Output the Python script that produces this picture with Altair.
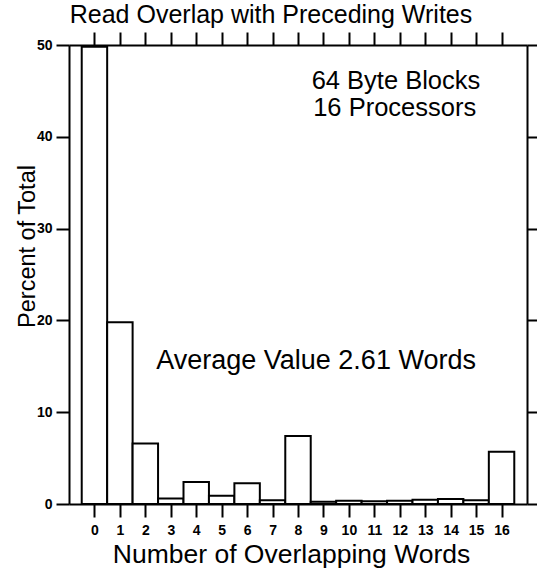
import altair as alt
import pandas as pd

# Data
words = list(range(17))
percent = [49.8, 19.8, 6.6, 0.6, 2.4, 0.9, 2.25, 0.4, 7.4, 0.25, 0.35, 0.3, 0.35, 0.45, 0.55, 0.4, 5.7]
x_ticks = list(range(17))
y_ticks = [0, 10, 20, 30, 40, 50]

title_text = "Read Overlap with Preceding Writes"
x_title = "Number of Overlapping Words"
y_title = "Percent of Total"
note_lines = ["64 Byte Blocks", "16 Processors"]
avg_text = "Average Value 2.61 Words"

df = pd.DataFrame({"words": words, "percent": percent})
df["lo"] = df["words"] - 0.5
df["hi"] = df["words"] + 0.5

FONT = "Liberation Sans"
W, H = 458, 459

xs = alt.Scale(domain=[-1, 17], nice=False, zero=False)
ys = alt.Scale(domain=[0, 50], nice=False)

common = dict(
    domainColor="black", domainWidth=2, tickColor="black", tickWidth=2,
    tickSize=13, grid=False, labelFont=FONT, labelFontWeight="bold",
    labelFontSize=14, labelColor="black", titleFont=FONT,
    titleFontWeight="normal", titleColor="black",
)

bars = alt.Chart(df).mark_bar(fill="white", stroke="black", strokeWidth=2).encode(
    x=alt.X("lo:Q", scale=xs, axis=alt.Axis(
        values=x_ticks, orient="bottom", title=x_title, titleFontSize=26.5,
        titleX=222, titleY=58, titleBaseline="alphabetic", labelPadding=6,
        **common)),
    x2="hi",
    y=alt.Y("percent:Q", scale=ys, axis=alt.Axis(
        values=y_ticks, orient="left", title=y_title, titleFontSize=23.5,
        titleX=-35, titleY=201, titleAngle=270, titleBaseline="alphabetic",
        titleAlign="center", labelPadding=4, **common)),
    y2=alt.Y2(datum=0),
)

frame = alt.Chart(df).mark_bar(opacity=0).encode(
    x=alt.X("lo:Q", scale=xs, axis=alt.Axis(
        values=x_ticks, orient="top", labels=False, title="", **common)),
    x2="hi",
    y=alt.Y("percent:Q", scale=ys, axis=alt.Axis(
        values=y_ticks, orient="right", labels=False, title="", **common)),
    y2=alt.Y2(datum=0),
)

def label(text, xv, yv, size):
    return alt.Chart(df.head(1)).mark_text(
        text=text, font=FONT, fontSize=size, color="black",
        align="center", baseline="alphabetic",
    ).encode(x=alt.X(datum=xv, axis=None), y=alt.Y(datum=yv, axis=None))

t1 = label(note_lines[0], 11.85, 45.2, 25.5)
t2 = label(note_lines[1], 11.8, 42.3, 25.5)
t3 = label(avg_text, 8.71, 14.7, 27)

chart = alt.layer(bars, frame, t1, t2, t3).resolve_axis(
    x="independent", y="independent"
).properties(
    width=W, height=H,
    title=alt.TitleParams(title_text, font=FONT, fontSize=25, fontWeight="normal",
                          color="black", anchor="middle", dx=-27, dy=24, offset=7,
                          baseline="alphabetic"),
    autosize=alt.AutoSizeParams(type="none"),
    padding={"left": 69, "top": 45, "right": 10, "bottom": 69},
).configure_view(stroke=None).configure(background="white")

chart.save("out.html", embed_options={"renderer": "svg", "actions": False})
